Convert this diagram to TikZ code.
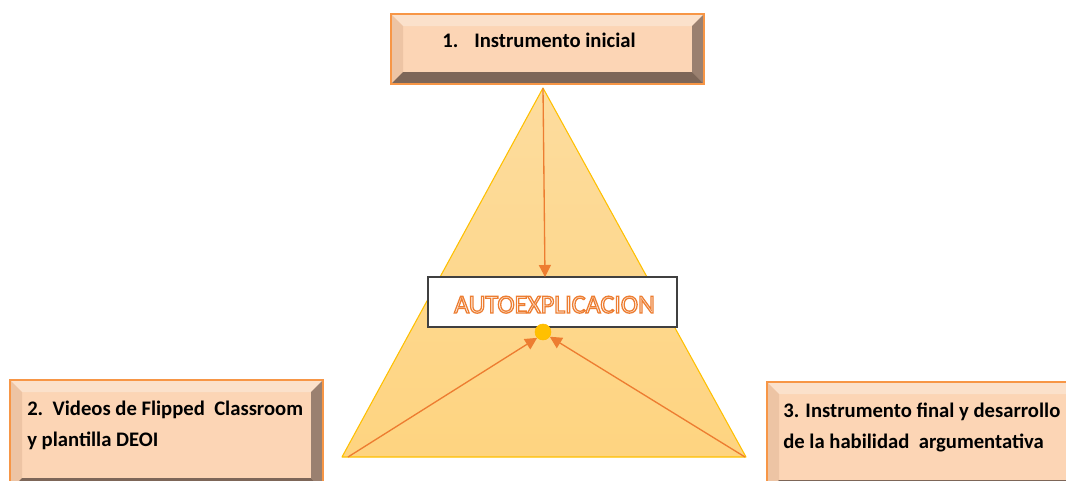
\documentclass[tikz,border=0pt]{standalone}
\usepackage{fontspec}
\setmainfont{Carlito}
\usetikzlibrary{arrows.meta}
\definecolor{peach}{HTML}{FCD5B5}
\definecolor{boxline}{HTML}{F79646}
\definecolor{arr}{HTML}{ED7D31}
\definecolor{trilo}{HTML}{FED480}
\definecolor{trihi}{HTML}{FDDC9E}
\definecolor{triedge}{HTML}{FFC000}
\definecolor{bevlight}{HTML}{FBE1CB}
\definecolor{bevleft}{HTML}{EDC4A4}
\definecolor{bevright}{HTML}{9A8070}
\definecolor{bevdark}{HTML}{7D6658}
\definecolor{dotc}{HTML}{FFC000}
\newcommand\bevelit[2]{%
  \fill[bevlight] (#1.north west) -- (#1.north east) -- ([shift={(-#2,#2)}]#1.north east) -- ([shift={(#2,#2)}]#1.north west) -- cycle;
  \fill[bevleft] (#1.north west) -- ([shift={(#2,#2)}]#1.north west) -- ([shift={(#2,-#2)}]#1.south west) -- (#1.south west) -- cycle;
  \fill[bevright] (#1.north east) -- (#1.south east) -- ([shift={(-#2,-#2)}]#1.south east) -- ([shift={(-#2,#2)}]#1.north east) -- cycle;
  \fill[bevdark] (#1.south west) -- (#1.south east) -- ([shift={(-#2,-#2)}]#1.south east) -- ([shift={(#2,-#2)}]#1.south west) -- cycle;
  \draw[boxline,line width=1.3pt] (#1.north west) rectangle (#1.south east);
}
\begin{document}
\begin{tikzpicture}[x=0.75pt,y=-0.75pt,
  bevbox/.style={fill=peach,inner sep=0pt,outer sep=0pt,minimum width=234.75pt},
  lbl/.style={anchor=base west,inner sep=0pt,font=\bfseries\fontsize{15.5}{18}\selectfont},
  arrowline/.style={draw=arr,line width=1pt,-{Triangle[length=9pt,width=9pt]}},
  autotxt/.style={anchor=base,inner sep=0pt,font=\fontsize{19.5}{22}\selectfont}]
\useasboundingbox (0,0) rectangle (1066,480);
\clip (0,0) rectangle (1066,480);

% triangle
\coordinate (apex) at (543,88);
\coordinate (bl) at (342,457);
\coordinate (br) at (746,457);
\shade[top color=trihi,bottom color=trilo] (apex) -- (br) -- (bl) -- cycle;
\draw[triedge,line width=0.8pt,line join=round] (apex) -- (br) -- (bl) -- cycle;

% boxes
\node[bevbox,minimum height=52.5pt] (b1) at (547.5,49) {};
\bevelit{b1}{12}
\node[bevbox,minimum height=82.5pt] (b2) at (166.5,435) {};
\bevelit{b2}{12}
\node[bevbox,minimum height=82.5pt] (b3) at (923.5,437) {};
\bevelit{b3}{12}

\node[lbl] (t1n) at (442,47) {1.};
\node[lbl] (t1) at (474,47) {Instrumento inicial};
\node[lbl] (t2a) at (27,415) {2.\ \ Videos de Flipped\ \ Classroom};
\node[lbl] (t2b) at (27,446) {y plantilla DEOI};
\node[lbl] (t3a) at (783,417) {3. Instrumento final y desarrollo};
\node[lbl] (t3b) at (783,448) {de la habilidad\ \ argumentativa};

% central box
\node[draw=black!75,fill=white,line width=0.8pt,minimum width=186.75pt,minimum height=37.5pt,inner sep=0pt] (auto) at (552.5,302) {};
\node[autotxt,text=white] (atext) at (554.5,313) {\special{pdf:code 0.929 0.49 0.192 RG}\addfontfeature{FakeBold=5}AUTOEXPLICACION};

\node[circle,fill=dotc,draw=dotc!90!orange,minimum size=12pt,inner sep=0pt] (dot) at (543,332) {};

% arrows
\coordinate (vtip) at (545,277);
\coordinate (lstart) at (348,457);
\coordinate (rstart) at (745,457);
\draw[arrowline] (apex) -- (vtip);
\draw[arrowline] (lstart) -- (dot.south west);
\draw[arrowline] (rstart) -- (dot.-35);
\end{tikzpicture}
\end{document}
